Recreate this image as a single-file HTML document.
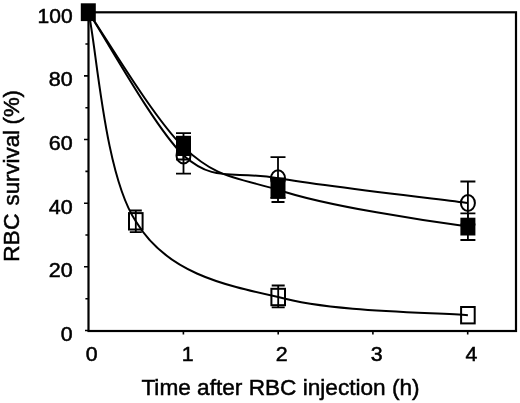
<!DOCTYPE html>
<html><head><meta charset="utf-8"><title>RBC survival</title>
<style>
html,body{margin:0;padding:0;background:#fff;}
body{width:520px;height:403px;overflow:hidden;}
svg{display:block;font-family:"Liberation Sans",Arial,Helvetica,sans-serif;fill:#000;}
.tick{font-size:19.6px;stroke:#000;stroke-width:0.5;}
.ttl{font-size:22.9px;stroke:#000;stroke-width:0.5;}
.ln{fill:none;stroke:#000;stroke-width:2.2;}
.cv{fill:none;stroke:#000;stroke-width:2;}
.eb{fill:none;stroke:#000;stroke-width:1.8;}
.mk{fill:none;stroke:#000;stroke-width:2;}
</style></head><body>
<svg width="520" height="403" viewBox="0 0 520 403">
<rect width="520" height="403" fill="#fff"/>

<g class="ln">
<rect x="88.5" y="12.3" width="427.5" height="318.7"/>
<path d="M85,330.5H88.5M85.4,298.7H88.5M84,266.8H88.5M85.4,235.0H88.5M84,203.2H88.5M85.4,171.4H88.5M84,139.5H88.5M85.4,107.7H88.5M84,75.9H88.5M85.4,44.0H88.5M84,12.2H88.5M183.4,331V334.6M278.2,331V334.6M372.9,331V334.6M467.7,331V334.6" stroke-width="1.6"/>
</g>
<g class="cv">
<path d="M88.5,12.2 C104.5,36.1 154.3,127.2 183.5,155.4 C215.1,183.1 230.6,170.3 278.0,178.2 C325.4,186.1 436.2,198.9 467.9,203.0"/>
<path d="M88.5,12.2 C104.2,34.7 153,117.5 183.5,147.1 C215.1,176.7 230.6,176.4 278.0,189.7 C325.4,206 430,221.5 467.9,226.6"/>
<path d="M88.5,12.2 C96.6,47.1 104.2,173.8 135.8,221.3 C166,272 221,284.5 278.2,297.0 C333.5,312.6 436.3,312.2 467.9,315.2"/>
</g>
<g class="eb">
<path d="M135.8,210.5V232.20000000000002M129.8,210.5H141.8M129.8,232.20000000000002H141.8"/>
<path d="M278.2,285.5V307.4M271.7,285.5H284.7M271.7,307.4H284.7"/>
<path d="M183.5,137.4V173.6M176.0,173.6H191.0"/>
<path d="M176,137.5H191" stroke-width="3.4"/>
<path d="M278.0,157.1V197.8M270.5,157.1H285.5M270.5,197.8H285.5"/>
<path d="M467.9,181.5V224.5M460.4,181.5H475.4M460.4,224.5H475.4"/>
<path d="M183.5,133.2V159.5M176.0,133.2H191.0M176.0,159.5H191.0"/>
<path d="M278.0,178.7V202.0M271.5,202.0H284.5"/>
<path d="M270.5,179.3H285.5" stroke-width="3.6"/>
<path d="M467.9,213.4V240.0M460.4,213.4H475.4M460.4,240.0H475.4"/>
</g>
<g class="mk">
<rect x="129.0" y="213.1" width="13.6" height="16.4"/>
<rect x="271.4" y="288.8" width="13.6" height="16.4"/>
<rect x="461.1" y="307.0" width="13.6" height="16.4"/>
<ellipse cx="183.5" cy="155.4" rx="7" ry="8"/>
<ellipse cx="278.0" cy="178.2" rx="7" ry="8"/>
<ellipse cx="467.9" cy="203.0" rx="7" ry="8"/>
</g>
<g fill="#000">
<rect x="80.8" y="3.3" width="15" height="17.8"/>
<rect x="176.0" y="138.2" width="15" height="17.8"/>
<rect x="270.5" y="180.8" width="15" height="17.8"/>
<rect x="460.4" y="217.7" width="15" height="17.8"/>
</g>
<g class="tick" text-anchor="end">
<text x="72.7" y="22.6" textLength="35.1" lengthAdjust="spacingAndGlyphs">100</text>
<text x="72.7" y="86.3" textLength="23.9" lengthAdjust="spacingAndGlyphs">80</text>
<text x="72.7" y="149.9" textLength="23.9" lengthAdjust="spacingAndGlyphs">60</text>
<text x="72.7" y="213.6" textLength="23.9" lengthAdjust="spacingAndGlyphs">40</text>
<text x="72.7" y="277.2" textLength="23.9" lengthAdjust="spacingAndGlyphs">20</text>
<text x="72.7" y="340.9" textLength="11.9" lengthAdjust="spacingAndGlyphs">0</text>
</g>
<g class="tick" text-anchor="middle">
<text x="91.6" y="361" textLength="11.9" lengthAdjust="spacingAndGlyphs">0</text>
<text x="187.6" y="361" textLength="11.9" lengthAdjust="spacingAndGlyphs">1</text>
<text x="281.8" y="361" textLength="11.9" lengthAdjust="spacingAndGlyphs">2</text>
<text x="376.8" y="361" textLength="11.9" lengthAdjust="spacingAndGlyphs">3</text>
<text x="471.4" y="361" textLength="11.9" lengthAdjust="spacingAndGlyphs">4</text>
</g>
<text class="ttl" x="141.4" y="395.4" textLength="278.2" lengthAdjust="spacingAndGlyphs">Time after RBC injection (h)</text>
<text class="ttl" style="font-size:22.4px" transform="translate(18.7,262) rotate(-90)" textLength="48.5" lengthAdjust="spacingAndGlyphs">RBC</text>
<text class="ttl" style="font-size:22.4px" transform="translate(18.7,205.5) rotate(-90)" textLength="75.5" lengthAdjust="spacingAndGlyphs">survival</text>
<text class="ttl" style="font-size:22.4px" transform="translate(18.7,124.5) rotate(-90)" textLength="34.5" lengthAdjust="spacingAndGlyphs">(%)</text>
</svg></body></html>
